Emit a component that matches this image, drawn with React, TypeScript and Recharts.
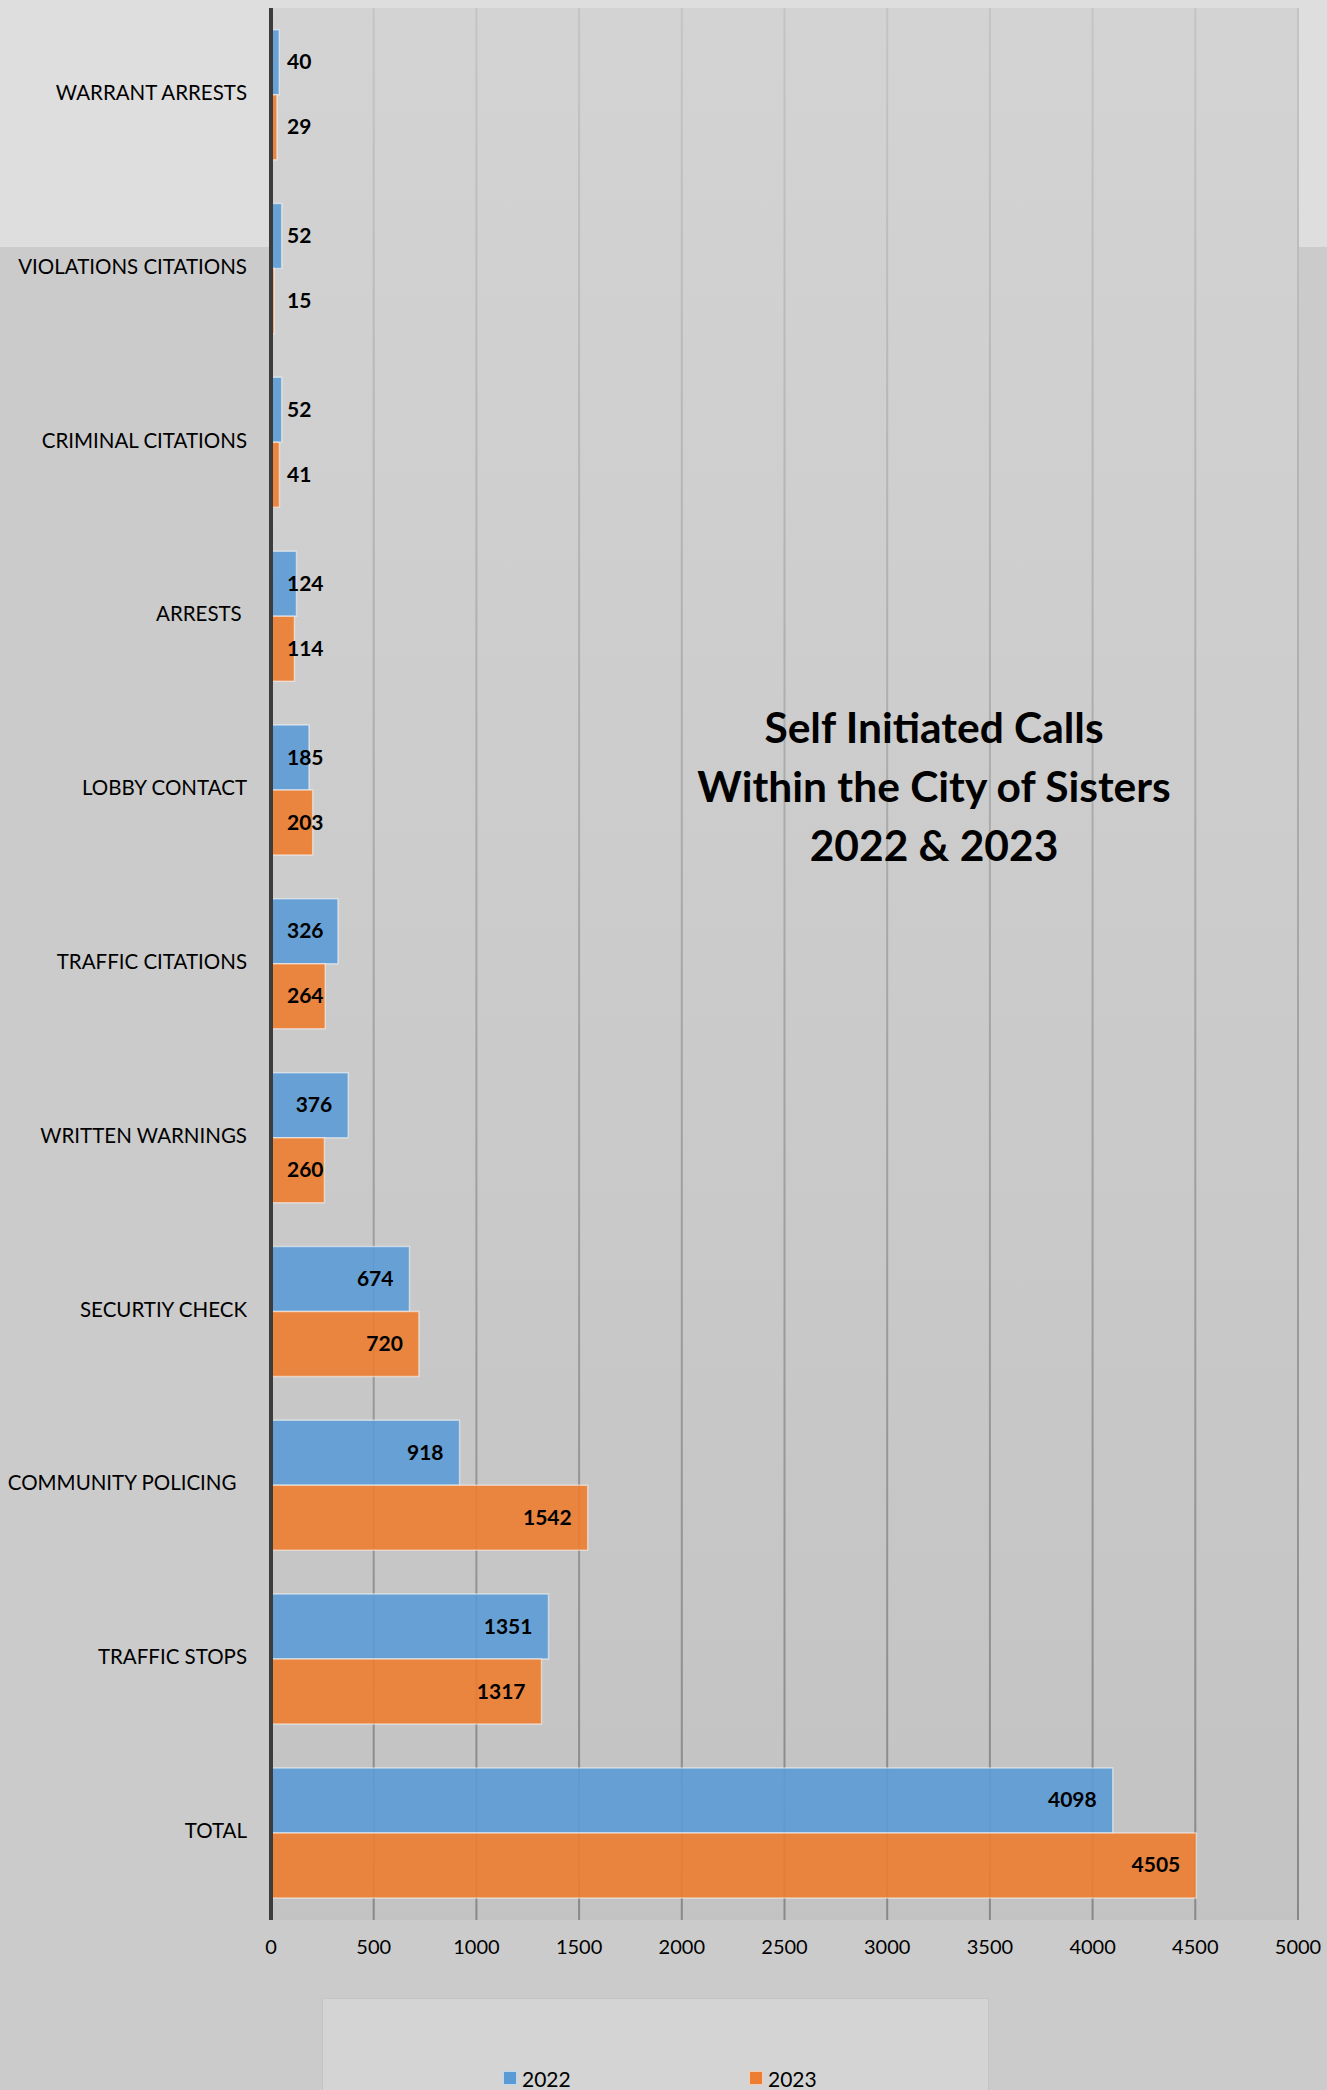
import React from "react";
import { Bar, BarChart, CartesianGrid, LabelList, XAxis, YAxis } from "recharts";

const categories = [
  "WARRANT ARRESTS",
  "VIOLATIONS CITATIONS",
  "CRIMINAL CITATIONS",
  "ARRESTS ",
  "LOBBY CONTACT",
  "TRAFFIC CITATIONS",
  "WRITTEN WARNINGS",
  "SECURTIY CHECK",
  "COMMUNITY POLICING  ",
  "TRAFFIC STOPS",
  "TOTAL",
];
const calls2022 = [40, 52, 52, 124, 185, 326, 376, 674, 918, 1351, 4098];
const calls2023 = [29, 15, 41, 114, 203, 264, 260, 720, 1542, 1317, 4505];
const xTicks = [0, 500, 1000, 1500, 2000, 2500, 3000, 3500, 4000, 4500, 5000];
const seriesNames = ["2022", "2023"];
const seriesColors = ["#5B9BD5", "#ED7D31"];
const titleLines = ["Self Initiated Calls", "Within the City of Sisters", "2022 & 2023"];

const data = categories.map((name, i) => ({
  name,
  y2022: calls2022[i],
  y2023: calls2023[i],
}));

const FONT = "Lato, 'Open Sans', sans-serif";

// excel "inside end" labels: pushed right of the axis when the bar is too short
const BarValueLabel = (props: any) => {
  const { x, y, width, height, value } = props;
  const textWidth = String(value).length * 12.2;
  const endX = x + width - 16;
  const minStart = x + 16;
  const inside = endX - textWidth >= minStart - 1;
  return (
    <text
      x={inside ? endX : minStart}
      y={y + height / 2 - 1.5}
      textAnchor={inside ? "end" : "start"}
      dominantBaseline="central"
      fontFamily={FONT}
      fontWeight={700}
      fontSize={21}
      fill="#000"
    >
      {value}
    </text>
  );
};

const CategoryTick = (props: any) => {
  const { x, y, payload } = props;
  return (
    <text
      x={x}
      y={y - 3}
      textAnchor="end"
      dominantBaseline="central"
      fontFamily={FONT}
      fontSize={20.5}
      fill="#000"
      style={{ whiteSpace: "pre" }}
    >
      {payload.value}
    </text>
  );
};

const App = () => {
  return (
    <div style={{ position: "absolute", left: 0, top: 0, width: 1327, height: 2090, background: "#cbcbcb" }}>
      <div style={{ position: "absolute", left: 0, top: 0, width: 1327, height: 247, background: "#dedede" }} />
      <div style={{ position: "absolute", left: 0, top: 0 }}>
        <BarChart
          width={1327}
          height={2090}
          data={data}
          layout="vertical"
          margin={{ top: 8, right: 29, left: 0, bottom: 0 }}
          barCategoryGap="12.5%"
          barGap={0}
        >
          <defs>
            <linearGradient id="plotBg" x1="0" y1="0" x2="0" y2="1">
              <stop offset="0" stopColor="#d3d3d3" />
              <stop offset="1" stopColor="#c3c3c3" />
            </linearGradient>
            <linearGradient id="gridStroke" gradientUnits="userSpaceOnUse" x1="0" y1="8" x2="0" y2="1920">
              <stop offset="0" stopColor="#c4c4c4" />
              <stop offset="1" stopColor="#888888" />
            </linearGradient>
          </defs>
          <CartesianGrid
            horizontal={false}
            fill="url(#plotBg)"
            fillOpacity={1}
            stroke="url(#gridStroke)"
            strokeWidth={2}
          />
          <XAxis
            type="number"
            domain={[0, 5000]}
            ticks={xTicks}
            height={170}
            axisLine={false}
            tickLine={false}
            tickMargin={14}
            tick={{ fontSize: 20, fill: "#000", fontFamily: FONT }}
          />
          <Bar
            dataKey="y2022"
            name={seriesNames[0]}
            fill={seriesColors[0]}
            fillOpacity={0.9}
            stroke="rgba(255,255,255,0.5)"
            strokeWidth={1.5}
            isAnimationActive={false}
          >
            <LabelList dataKey="y2022" content={BarValueLabel} />
          </Bar>
          <Bar
            dataKey="y2023"
            name={seriesNames[1]}
            fill={seriesColors[1]}
            fillOpacity={0.9}
            stroke="rgba(255,255,255,0.5)"
            strokeWidth={1.5}
            isAnimationActive={false}
          >
            <LabelList dataKey="y2023" content={BarValueLabel} />
          </Bar>
          <YAxis
            type="category"
            dataKey="name"
            width={271}
            tickLine={false}
            tickSize={6}
            tickMargin={18}
            axisLine={{ stroke: "#3c3c3c", strokeWidth: 4 }}
            tick={<CategoryTick />}
            interval={0}
          />
        </BarChart>
      </div>

      <div
        style={{
          position: "absolute",
          left: 634,
          top: 697,
          width: 600,
          textAlign: "center",
          fontFamily: FONT,
          fontWeight: 700,
          fontSize: 42.5,
          lineHeight: "59px",
          color: "#000",
        }}
      >
        {titleLines.map((line) => (
          <div key={line}>{line}</div>
        ))}
      </div>

      <div
        style={{
          position: "absolute",
          left: 322,
          top: 1998,
          width: 665,
          height: 92,
          background: "#d4d4d4",
          borderTop: "1px solid #c4c4c4",
          borderLeft: "1px solid #c4c4c4",
          borderRight: "1px solid #c4c4c4",
        }}
      >
        {seriesNames.map((name, i) => (
          <div
            key={name}
            style={{
              position: "absolute",
              left: i === 0 ? 180 : 426,
              top: 68,
              height: 22,
              display: "flex",
              alignItems: "center",
              fontFamily: FONT,
              fontSize: 21,
              color: "#000",
            }}
          >
            <span
              style={{
                display: "inline-block",
                width: 12,
                height: 12,
                background: seriesColors[i],
                border: "1px solid rgba(255,255,255,0.6)",
                marginRight: 5,
              }}
            />
            {name}
          </div>
        ))}
      </div>
    </div>
  );
};

export default App;
